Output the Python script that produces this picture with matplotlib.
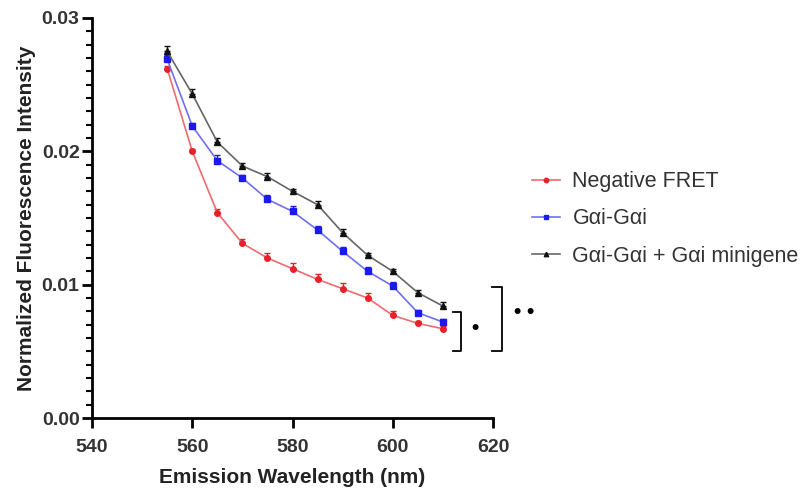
import matplotlib
matplotlib.use("Agg")
import matplotlib.pyplot as plt
from matplotlib.ticker import MultipleLocator

plt.rcParams['font.family'] = ['Liberation Sans', 'DejaVu Sans']

wavelength = [555, 560, 565, 570, 575, 580, 585, 590, 595, 600, 605, 610]

neg_fret = [0.0262, 0.0200, 0.0154, 0.0131, 0.0120, 0.0112, 0.0104, 0.0097, 0.0090, 0.0077, 0.0071, 0.0067]
neg_fret_err = [0.0002, 0.0002, 0.0003, 0.0003, 0.0004, 0.0004, 0.0004, 0.0004, 0.0004, 0.0003, 0.0002, 0.0002]

gai_gai = [0.0269, 0.0219, 0.0193, 0.0180, 0.0164, 0.0155, 0.0141, 0.0125, 0.0110, 0.0099, 0.0079, 0.0072]
gai_gai_err = [0.0003, 0.0002, 0.0004, 0.0002, 0.0003, 0.0004, 0.0003, 0.0003, 0.0003, 0.0003, 0.0002, 0.0002]

gai_mini = [0.0275, 0.0243, 0.0207, 0.0189, 0.0181, 0.0170, 0.0160, 0.0139, 0.0122, 0.0110, 0.0094, 0.0084]
gai_mini_err = [0.0004, 0.0004, 0.0003, 0.0002, 0.0003, 0.0002, 0.0003, 0.0003, 0.0002, 0.0002, 0.0002, 0.0003]

labels = ['Negative FRET', 'G\u03b1i-G\u03b1i', 'G\u03b1i-G\u03b1i + G\u03b1i minigene']

fig = plt.figure(figsize=(8.03, 4.93), dpi=100)
ax = fig.add_axes([0.1146, 0.152, 0.4994, 0.8115])

series = [
    (neg_fret, neg_fret_err, '#e8202a', '#f06a70', 'o', 4),
    (gai_gai, gai_gai_err, '#1a1aee', '#6f6ff5', 's', 4),
    (gai_mini, gai_mini_err, '#111111', '#666666', '^', 4),
]
handles = []
for (vals, err, mc, lc, mk, ms), lab in zip(series, labels):
    ax.errorbar(wavelength, vals, yerr=[[0] * len(err), err], fmt='none',
                ecolor=mc, elinewidth=1, capsize=2.5, capthick=1, zorder=3)
    h, = ax.plot(wavelength, vals, color=lc, lw=1.2, marker=mk, ms=ms,
                 mfc=mc, mec=mc, label=lab, zorder=4)
    handles.append(h)

ax.set_xlim(540, 620)
ax.set_ylim(0, 0.03)
ax.set_xticks([540, 560, 580, 600, 620])
ax.set_yticks([0.00, 0.01, 0.02, 0.03])
ax.set_yticklabels(['0.00', '0.01', '0.02', '0.03'])
ax.yaxis.set_minor_locator(MultipleLocator(0.001))

for s in ['top', 'right']:
    ax.spines[s].set_visible(False)
for s in ['left', 'bottom']:
    ax.spines[s].set_linewidth(2)
ax.tick_params(axis='both', which='major', width=2, length=7, labelsize=14,
               labelcolor='#333333')
ax.tick_params(axis='x', which='major', pad=8)
ax.tick_params(axis='y', which='major', pad=2)
ax.tick_params(axis='y', which='minor', width=1.5, length=4)
for t in ax.get_xticklabels() + ax.get_yticklabels():
    t.set_fontweight('bold')

ax.set_xlabel('Emission Wavelength (nm)', fontsize=15, fontweight='bold', color='#222222', labelpad=9)
ax.set_ylabel('Normalized Fluorescence Intensity', fontsize=15, fontweight='bold', color='#222222', labelpad=4)

leg = fig.legend(handles=handles, loc='upper left', bbox_to_anchor=(0.662, 0.653),
                 frameon=False, fontsize=15.5, handlelength=1.3, handletextpad=0.6,
                 labelspacing=0.76, borderpad=0, borderaxespad=0, markerscale=0.8)
for t in leg.get_texts():
    t.set_color('#333333')

# significance brackets
def bracket(x0, x1, y0, y1):
    ax.plot([x0, x1, x1, x0], [y1, y1, y0, y0], color='black', lw=1.3,
            clip_on=False)

def star(tx, ty):
    ax.text(tx, ty, '\u2022', ha='center', va='center', fontsize=15,
            fontweight='bold', clip_on=False)

bracket(612.0, 613.6, 0.0050, 0.00795)
star(616.4, 0.00668)
bracket(619.8, 621.8, 0.0050, 0.00983)
star(624.7, 0.00788)
star(627.4, 0.00788)

fig.savefig('out.png', dpi=100)
